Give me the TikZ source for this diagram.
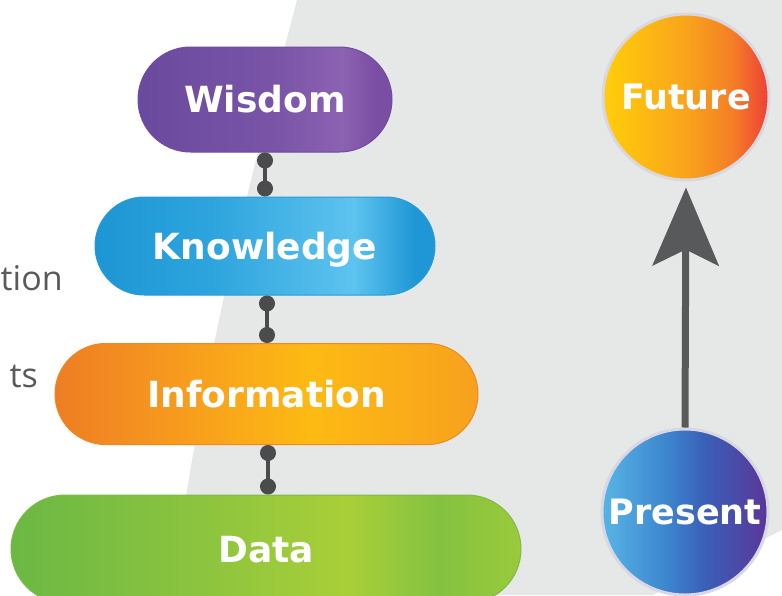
\documentclass[tikz,border=0pt]{standalone}
\usepackage{fontspec}
\setmainfont{DejaVu Sans}
\newfontfamily\sidefont{Open Sans}
\usetikzlibrary{shapes.misc,arrows.meta}

% palette
\definecolor{bggrey}{HTML}{E6E8E8}
\definecolor{conngrey}{HTML}{4B4B4E}
\definecolor{arrowgrey}{HTML}{58595B}
\definecolor{sidegrey}{HTML}{5A5A5C}
\definecolor{ringgrey}{HTML}{D9D7E2}

\definecolor{wisA}{HTML}{6A4A9E}
\definecolor{wisB}{HTML}{7954A7}
\definecolor{wisC}{HTML}{8C62B2}
\definecolor{wisD}{HTML}{7A4EA3}
\definecolor{wisLine}{HTML}{6E4C9F}

\definecolor{knoA}{HTML}{1C96D4}
\definecolor{knoB}{HTML}{2DA4DD}
\definecolor{knoC}{HTML}{5EC3EF}
\definecolor{knoD}{HTML}{1F97D6}
\definecolor{knoLine}{HTML}{2A9BD6}

\definecolor{infA}{HTML}{EE7D23}
\definecolor{infB}{HTML}{F79C1E}
\definecolor{infC}{HTML}{FDBA13}
\definecolor{infD}{HTML}{F7A11E}
\definecolor{infLine}{HTML}{F0891F}

\definecolor{datA}{HTML}{6BB844}
\definecolor{datB}{HTML}{8FC53E}
\definecolor{datC}{HTML}{A9CF38}
\definecolor{datM}{HTML}{84C241}
\definecolor{datD}{HTML}{9ACA3B}
\definecolor{datLine}{HTML}{7DBB41}

\definecolor{futA}{HTML}{FFCB0A}
\definecolor{futB}{HTML}{F9A41C}
\definecolor{futC}{HTML}{F47E26}
\definecolor{futD}{HTML}{EE3F37}

\definecolor{preA}{HTML}{55B0E4}
\definecolor{preB}{HTML}{3C84CE}
\definecolor{preC}{HTML}{3A5FB8}
\definecolor{preD}{HTML}{5A3698}

% left-to-right fills (the path spans 25bp..75bp)
\pgfdeclarehorizontalshading{wisdomshade}{100bp}{color(0bp)=(wisA); color(25bp)=(wisA); color(52bp)=(wisB); color(65bp)=(wisC); color(72bp)=(wisD); color(75bp)=(wisD); color(100bp)=(wisD)}
\pgfdeclarehorizontalshading{knowshade}{100bp}{color(0bp)=(knoA); color(25bp)=(knoA); color(42bp)=(knoB); color(63bp)=(knoC); color(72bp)=(knoD); color(75bp)=(knoD); color(100bp)=(knoD)}
\pgfdeclarehorizontalshading{infoshade}{100bp}{color(0bp)=(infA); color(25bp)=(infA); color(40bp)=(infB); color(55bp)=(infC); color(75bp)=(infD); color(100bp)=(infD)}
\pgfdeclarehorizontalshading{datashade}{100bp}{color(0bp)=(datA); color(25bp)=(datA); color(45bp)=(datB); color(58bp)=(datC); color(67bp)=(datM); color(75bp)=(datD); color(100bp)=(datD)}
\pgfdeclarehorizontalshading{futureshade}{100bp}{color(0bp)=(futA); color(27bp)=(futA); color(50bp)=(futB); color(64bp)=(futC); color(75bp)=(futD); color(100bp)=(futD)}
\pgfdeclarehorizontalshading{presentshade}{100bp}{color(0bp)=(preA); color(27bp)=(preA); color(45bp)=(preB); color(56bp)=(preC); color(75bp)=(preD); color(100bp)=(preD)}

\begin{document}
\begin{tikzpicture}[x=1pt,y=-1pt,
  pill/.style={rounded rectangle, inner sep=0pt, line width=1pt,
    text=white, font=\bfseries\fontsize{36}{36}\selectfont,
    text height=26pt, text depth=0pt},
  timeball/.style={circle, inner sep=0pt, minimum size=166pt,
    draw=ringgrey, line width=3pt,
    text=white, font=\bfseries\fontsize{35}{35}\selectfont,
    text height=25.5pt, text depth=0pt},
  link/.style={draw=conngrey, line width=3.5pt,
    arrows={Circle[length=16pt]-Circle[length=16pt]}},
  timearrow/.style={draw=arrowgrey, line width=7pt,
    -{Stealth[length=78pt,width=66pt,inset=16pt]}, shorten >=6pt},
  sidetext/.style={text=sidegrey, font=\sidefont\fontsize{34}{34}\selectfont,
    inner sep=0pt}
]
\useasboundingbox (0,0) rectangle (782,595);
\clip (0,0) rectangle (782,595);
\fill[white] (0,0) rectangle (782,595);

% grey backdrop on the right
\fill[bggrey] (297,0) .. controls (255,160) and (200,370) .. (172,595)
  -- (653,595) -- (782,530) -- (782,0) -- cycle;

% word endings at the left edge
\node[sidetext, anchor=base west] (tion) at (0.5,290) {tion};
\node[sidetext, anchor=base east] (ts) at (38,387) {ts};

% hierarchy
\node[pill, minimum width=254pt, minimum height=105pt, shading=wisdomshade, draw=wisLine]
  (wisdom) at (265,99.5) {Wisdom};
\node[pill, minimum width=340pt, minimum height=98pt, shading=knowshade, draw=knoLine]
  (knowledge) at (265,246) {Knowledge};
\node[pill, minimum width=423pt, minimum height=101pt, shading=infoshade, draw=infLine]
  (information) at (266.5,394) {Information};
\node[pill, minimum width=510pt, minimum height=108pt, shading=datashade, draw=datLine]
  (data) at (266,549) {Data};

\draw[link] (wisdom.south) -- (wisdom.south |- knowledge.north);
\draw[link] ([xshift=2pt]knowledge.south) -- ([xshift=2pt]knowledge.south |- information.north);
\draw[link] ([xshift=1.5pt]information.south) -- ([xshift=1.5pt]information.south |- data.north);

% present to future
\node[timeball, shading=futureshade] (future) at (686,97) {Future};
\node[timeball, shading=presentshade] (present) at (685,512) {Present};
\draw[timearrow] (present.north) -- (future.south);
\end{tikzpicture}
\end{document}
